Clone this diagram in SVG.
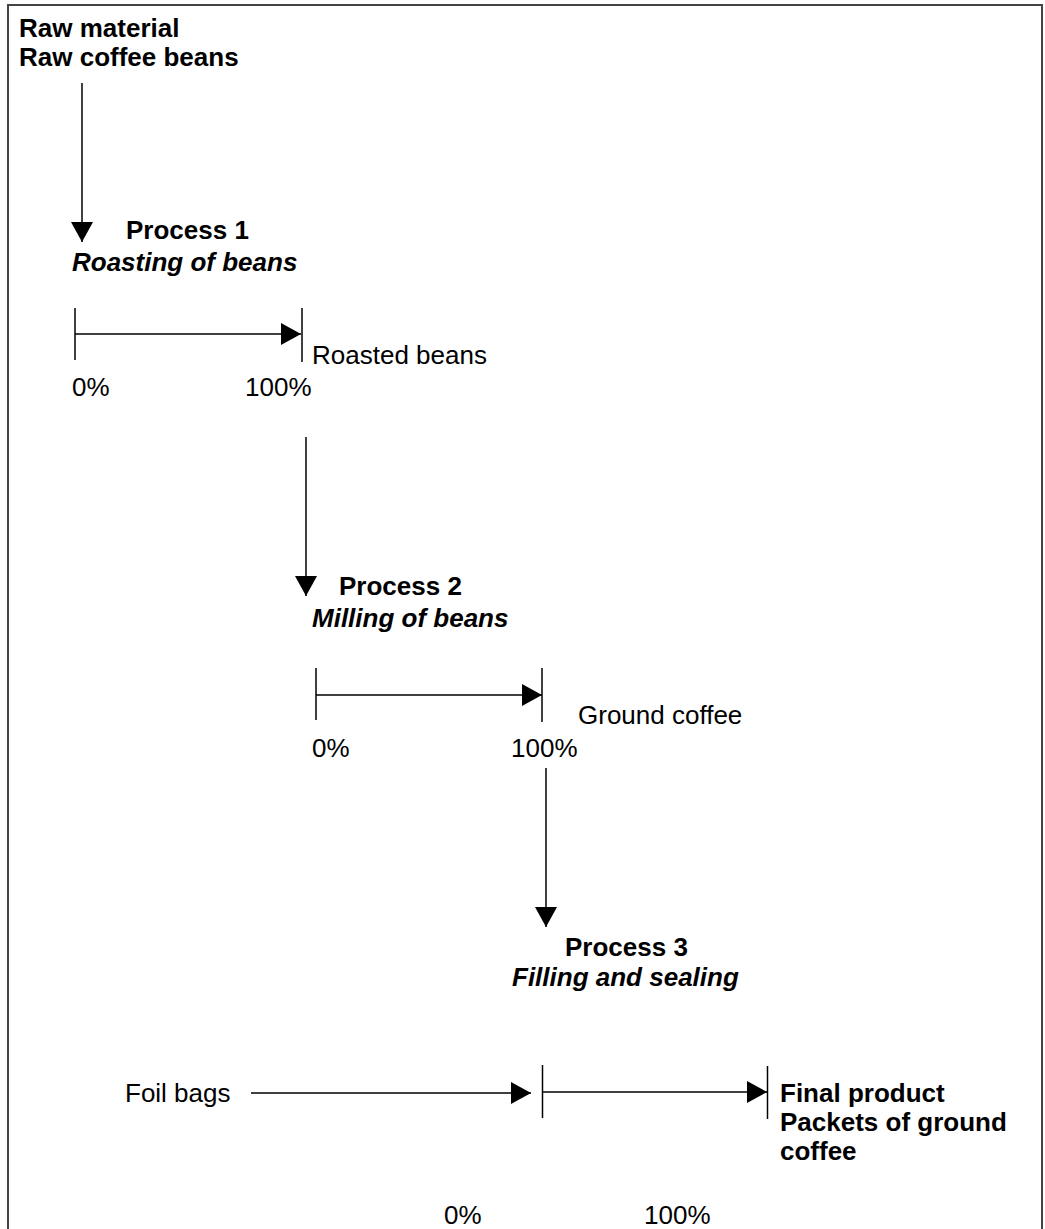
<svg xmlns="http://www.w3.org/2000/svg" width="1045" height="1229" viewBox="0 0 1045 1229">
  <style>
    text { font-family: "Liberation Sans", Arial, sans-serif; font-size: 26px; fill: #000; }
    .b { font-weight: bold; }
    .bi { font-weight: bold; font-style: italic; }
    .ln { stroke: #000; stroke-width: 1.5; fill: none; }
    .tick { stroke: #000; stroke-width: 1.5; }
    .frame { stroke: #444; stroke-width: 2; fill: none; }
  </style>
  <defs>
    <marker id="ah" markerUnits="userSpaceOnUse" markerWidth="22" markerHeight="24" refX="20" refY="11" orient="auto" viewBox="0 0 22 24">
      <path d="M0,0 L20,11 L0,22 Z" fill="#000"/>
    </marker>
  </defs>
  <rect width="1045" height="1229" fill="#fff"/>
  <path class="frame" d="M8,1229 L8,5 L1042,5 L1042,1229"/>

  <g id="raw-material">
    <text class="b" x="19" y="37">Raw material</text>
    <text class="b" x="19" y="66">Raw coffee beans</text>
  </g>
  <g id="process-1">
    <text class="b" x="126" y="239">Process 1</text>
    <text class="bi" x="72" y="271">Roasting of beans</text>
  </g>
  <g id="bar-1">
    <line class="tick" x1="75" y1="308" x2="75" y2="360"/>
    <line class="tick" x1="302" y1="308" x2="302" y2="362"/>
    <text x="72" y="396">0%</text>
    <text x="245" y="396">100%</text>
  </g>
  <g id="roasted-beans">
    <text x="312" y="364">Roasted beans</text>
  </g>
  <g id="process-2">
    <text class="b" x="339" y="595">Process 2</text>
    <text class="bi" x="312" y="627">Milling of beans</text>
  </g>
  <g id="bar-2">
    <line class="tick" x1="316" y1="668" x2="316" y2="720"/>
    <line class="tick" x1="542" y1="668" x2="542" y2="722"/>
    <text x="312" y="757">0%</text>
    <text x="511" y="757">100%</text>
  </g>
  <g id="ground-coffee">
    <text x="578" y="724">Ground coffee</text>
  </g>
  <g id="process-3">
    <text class="b" x="565" y="956">Process 3</text>
    <text class="bi" x="512" y="986">Filling and sealing</text>
  </g>
  <g id="foil-bags">
    <text x="125" y="1102">Foil bags</text>
  </g>
  <g id="bar-3">
    <line class="tick" x1="542.5" y1="1065" x2="542.5" y2="1118"/>
    <line class="tick" x1="767.5" y1="1066" x2="767.5" y2="1119"/>
    <text x="444" y="1224">0%</text>
    <text x="644" y="1224">100%</text>
  </g>
  <g id="final-product">
    <text class="b" x="780" y="1102">Final product</text>
    <text class="b" x="780" y="1131">Packets of ground</text>
    <text class="b" x="780" y="1160">coffee</text>
  </g>

  <g id="connectors">
    <line class="ln" x1="82" y1="83" x2="82" y2="242" marker-end="url(#ah)"/>
    <line class="ln" x1="75" y1="334" x2="301" y2="334" marker-end="url(#ah)"/>
    <line class="ln" x1="306" y1="437" x2="306" y2="596" marker-end="url(#ah)"/>
    <line class="ln" x1="316" y1="695" x2="542" y2="695" marker-end="url(#ah)"/>
    <line class="ln" x1="546" y1="768" x2="546" y2="927" marker-end="url(#ah)"/>
    <line class="ln" x1="251" y1="1093" x2="531" y2="1093" marker-end="url(#ah)"/>
    <line class="ln" x1="542.5" y1="1092" x2="767" y2="1092" marker-end="url(#ah)"/>
  </g>
</svg>
